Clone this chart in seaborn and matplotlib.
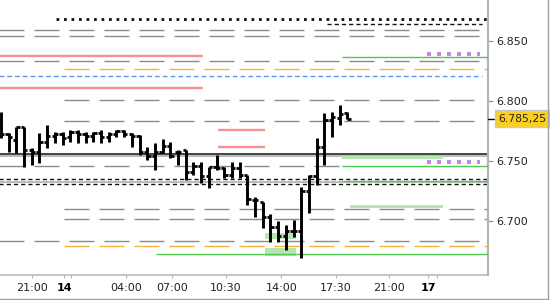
import matplotlib
matplotlib.use("Agg")
import matplotlib.pyplot as plt
import matplotlib.transforms as mtransforms
from matplotlib.lines import Line2D
import numpy as np
import seaborn as sns

# ---------------- data ----------------
bar_slot = list(range(46))  # 30-minute bars, slot index
bar_open = [6.7841, 6.7724, 6.7674, 6.7783, 6.7590, 6.7574, 6.7657, 6.7707, 6.7724, 6.7699,
            6.7741, 6.7724, 6.7707, 6.7732, 6.7699, 6.7724, 6.7749, 6.7724, 6.7707, 6.7574,
            6.7540, 6.7574, 6.7624, 6.7574, 6.7590, 6.7406, 6.7457, 6.7373, 6.7448, 6.7440,
            6.7381, 6.7440, 6.7381, 6.7172, 6.7155, 6.7030, 6.6946, 6.6871, 6.6913, 6.6913,
            6.7247, 6.7373, 6.7615, 6.7841, 6.7858, 6.7900]
bar_high = [6.7908, 6.7732, 6.7783, 6.7783, 6.7607, 6.7732, 6.7799, 6.7741, 6.7741, 6.7758,
            6.7758, 6.7741, 6.7741, 6.7758, 6.7741, 6.7758, 6.7758, 6.7732, 6.7716, 6.7615,
            6.7649, 6.7682, 6.7657, 6.7590, 6.7590, 6.7490, 6.7490, 6.7448, 6.7548, 6.7448,
            6.7490, 6.7490, 6.7381, 6.7197, 6.7155, 6.7055, 6.6997, 6.6963, 6.7005, 6.7281,
            6.7381, 6.7691, 6.7900, 6.7908, 6.7967, 6.7908]
bar_low = [6.7691, 6.7574, 6.7565, 6.7448, 6.7465, 6.7482, 6.7607, 6.7649, 6.7632, 6.7657,
           6.7649, 6.7649, 6.7657, 6.7649, 6.7657, 6.7699, 6.7699, 6.7615, 6.7548, 6.7507,
           6.7423, 6.7565, 6.7523, 6.7465, 6.7339, 6.7381, 6.7314, 6.7273, 6.7423, 6.7356,
           6.7356, 6.7356, 6.7130, 6.7030, 6.6938, 6.6820, 6.6820, 6.6754, 6.6862, 6.6687,
           6.7064, 6.7298, 6.7465, 6.7699, 6.7799, 6.7850]
bar_close = [6.7724, 6.7699, 6.7783, 6.7590, 6.7574, 6.7657, 6.7707, 6.7724, 6.7691, 6.7741,
             6.7724, 6.7707, 6.7732, 6.7699, 6.7724, 6.7749, 6.7724, 6.7707, 6.7574, 6.7540,
             6.7574, 6.7624, 6.7540, 6.7574, 6.7406, 6.7457, 6.7373, 6.7448, 6.7440, 6.7381,
             6.7440, 6.7381, 6.7181, 6.7172, 6.7030, 6.6946, 6.6871, 6.6913, 6.6913, 6.7247,
             6.7373, 6.7615, 6.7841, 6.7866, 6.7891, 6.78525]

last_price = 6.78525
last_label = "6.785,25"

x_tick_pos = [4.0, 8.2, 16.2, 22.2, 29.2, 36.4, 43.5, 50.4, 55.5]
x_tick_labels = ["21:00", "14", "04:00", "07:00", "10:30", "14:00", "17:30", "21:00", "17"]
x_tick_bold = ["14", "17"]
x_minor_pos = [9.1, 56.6]
y_ticks = [6.70, 6.75, 6.80, 6.85]

EDGE = -0.3
END = 63.4

gray_dash_price = [6.8594, 6.8544, 6.8332, 6.8008, 6.7830, 6.7457, 6.7097, 6.7011, 6.6829]
gray_dash_start = [EDGE, EDGE, EDGE, 8.2, 8.2, EDGE, 8.2, 8.2, EDGE]
gray_dash_end = [62.2, 62.2, END, 62.5, 62.5, 44.3, END, END, 62.5]

red_price = [6.8379, 6.8106, 6.7758, 6.7618]
red_start = [EDGE, EDGE, 28.2, 28.2]
red_end = [26.2, 26.2, 34.3, 34.3]

orange_price = [6.8265, 6.6788]
orange_start = [8.2, 8.2]
orange_end = [END, END]

blue_price = [6.8207]
blue_start = [EDGE]
blue_end = [62.5]

black_dot_price = [6.8688]
black_dot_start = [7.1]
black_dot_end = [END]

black_dash_price = [6.8644, 6.7345, 6.7303]
black_dash_start = [42.3, EDGE, EDGE]
black_dash_end = [62.5, END, END]

black_solid_price = [6.7557]
gray_solid_price = [6.7540, 6.7323]

green_price = [6.8365, 6.7457, 6.7334, 6.6721]
green_start = [44.3, 44.3, 44.3, 20.1]
green_end = [END, END, END, END]

purple_price = [6.8393, 6.7492]
purple_start = [55.3, 55.3]
purple_end = [62.2, 62.2]

band_low = [6.7516, 6.7105, 6.6844, 6.6704]
band_high = [6.7544, 6.7130, 6.6894, 6.6773]
band_start = [44.3, 45.3, 34.3, 34.3]
band_end = [57.4, 57.4, 38.3, 38.3]

# ---------------- style ----------------
sns.set_theme(style="white")
plt.rcParams["font.family"] = ["DejaVu Sans"]
plt.rcParams["lines.scale_dashes"] = False

fig = plt.figure(figsize=(5.5, 3.0), dpi=100)
ax = fig.add_axes([0, 25 / 300, 488 / 550, 275 / 300])
ax.set_facecolor("white")

ax.set_xlim(-0.13, 63.25)
ax.set_ylim(6.6545, 6.8845)

# light green bands
for lo, hi, s, e in zip(band_low, band_high, band_start, band_end):
    ax.fill_between([s, e], [lo, lo], [hi, hi], color="#b5e6b0", lw=0, zorder=2.5)

# levels
ax.hlines(gray_dash_price, gray_dash_start, gray_dash_end, colors="#8a8a8a",
          linewidth=1.0, linestyles=[(0, (18, 7.2))], zorder=2)
ax.hlines(gray_solid_price, EDGE, END, colors="#a8a8a8", linewidth=1.1, zorder=2)
ax.hlines(black_solid_price, EDGE, END, colors="#111111", linewidth=1.1, zorder=2)
ax.hlines(red_price, red_start, red_end, colors="#f79090", linewidth=1.7, zorder=2)
ax.hlines(orange_price, orange_start, orange_end, colors="#f5b53c",
          linewidth=1.0, linestyles=[(0, (18, 7.2))], zorder=2)
ax.hlines(blue_price, blue_start, blue_end, colors="#5a98f5",
          linewidth=1.0, linestyles=[(0, (3.4, 2.2))], zorder=2)
ax.hlines(black_dot_price, black_dot_start, black_dot_end, colors="#111111",
          linewidth=2.0, linestyles=[(0, (2.0, 3.4))], zorder=2)
ax.hlines(black_dash_price, black_dash_start, black_dash_end, colors="#111111",
          linewidth=1.0, linestyles=[(0, (3.0, 2.2))], zorder=2)
ax.hlines(green_price, green_start, green_end, colors="#4fc94f", linewidth=1.0, zorder=3)
ax.hlines(purple_price, purple_start, purple_end, colors="#c58ae0",
          linewidth=3.0, linestyles=[(0, (2.9, 4.3))], zorder=3)

# OHLC bars
slots = np.array(bar_slot, dtype=float)
vl = ax.vlines(slots, bar_low, bar_high, colors="black", linewidth=2.1, zorder=5)
vl.set_capstyle("butt")
op = ax.hlines(bar_open, slots - 0.42, slots, colors="black", linewidth=2.0, zorder=5)
op.set_capstyle("butt")
cl = ax.hlines(bar_close, slots, slots + 0.42, colors="black", linewidth=2.0, zorder=5)
cl.set_capstyle("butt")

# axes / spines
for s in ["top", "left"]:
    ax.spines[s].set_visible(False)
ax.spines["right"].set_color("#b4b4b4")
ax.spines["right"].set_linewidth(1.6)
ax.spines["bottom"].set_color("#b4b4b4")
ax.spines["bottom"].set_linewidth(1.1)

ax.yaxis.tick_right()
ax.set_yticks(y_ticks)
ax.set_yticklabels([f"{v:.3f}" for v in y_ticks])
ax.tick_params(axis="y", which="both", right=True, left=False, length=3.6, width=0.8,
               color="#8a8a8a", pad=2.5, labelsize=8, labelcolor="#222222")

ax.set_xticks(x_tick_pos)
ax.set_xticklabels(x_tick_labels)
ax.set_xticks(x_minor_pos, minor=True)
ax.tick_params(axis="x", which="both", bottom=True, length=2.5, width=0.8,
               color="#b4b4b4", pad=3, labelsize=8, labelcolor="#222222")
for lab in ax.get_xticklabels():
    if lab.get_text() in x_tick_bold:
        lab.set_fontweight("bold")
        lab.set_color("black")
ax.grid(False)

# current price marker
trans = mtransforms.blended_transform_factory(ax.transAxes, ax.transData)
ax.plot([1.0, 1.013], [last_price, last_price], transform=trans, color="black",
        lw=1.0, clip_on=False, zorder=6)
ax.text(1.021, last_price, last_label, transform=trans, ha="left", va="center",
        fontsize=7.8, color="#222222", zorder=7,
        bbox=dict(boxstyle="square,pad=0.3", fc="#fbd01c", ec="#c8c8c8", lw=1.0))

# figure frame
fig.add_artist(Line2D([547.5 / 550, 547.5 / 550], [1.5 / 300, 1.0], color="#a0a0a0", lw=1.0))
fig.add_artist(Line2D([0, 547.5 / 550], [1.5 / 300, 1.5 / 300], color="#a0a0a0", lw=1.0))

fig.savefig("out.png", dpi=100, facecolor="white")
